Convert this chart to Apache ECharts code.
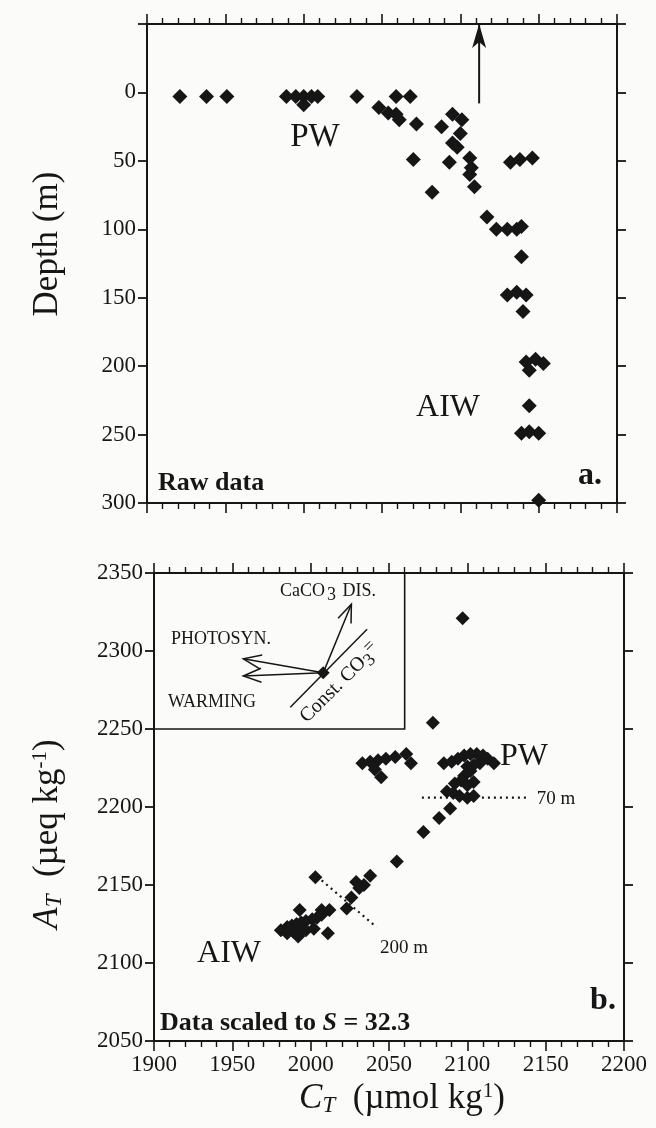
<!DOCTYPE html>
<html>
<head>
<meta charset="utf-8">
<script src="https://cdn.jsdelivr.net/npm/echarts@6/dist/echarts.min.js"></script>
<style>
  html, body { margin: 0; padding: 0; background: #fbfbfa; }
  #chart { width: 656px; height: 1128px; }
</style>
</head>
<body>
<div id="chart"></div>
<script>
// Panel a: raw data, CT (umol/kg) vs depth (m)
const rawCT = [1921, 1938, 1951, 1989, 1995, 2000, 2005, 2009, 2000, 2034, 2059, 2068,
  2048, 2054, 2059, 2061, 2072, 2095, 2101, 2088, 2100, 2095, 2098, 2070, 2093,
  2106, 2107, 2106, 2109, 2082, 2132, 2138, 2146, 2117, 2123, 2130, 2136, 2139,
  2139, 2130, 2136, 2142, 2140, 2142, 2148, 2153, 2144, 2144, 2139, 2144, 2150, 2150];
const rawDepth = [3, 3, 3, 3, 3, 3, 3, 3, 9, 3, 3, 3,
  11, 15, 16, 20, 23, 16, 20, 25, 30, 37, 40, 49, 51,
  48, 55, 60, 69, 73, 51, 49, 48, 91, 100, 100, 100, 98,
  120, 148, 146, 148, 160, 197, 195, 198, 203, 229, 249, 248, 249, 298];

// Panel b: data scaled to S = 32.3, CT vs AT (ueq/kg)
const scaledCT = [2097, 2078,
  2033, 2038, 2043, 2048, 2054, 2061, 2064, 2041, 2045,
  2085, 2090, 2094, 2098, 2102, 2106, 2110, 2113, 2117, 2108, 2104, 2100,
  2102, 2098, 2096, 2092, 2100, 2104, 2087, 2091, 2095, 2100, 2104,
  2089, 2082, 2072, 2055,
  2003, 2038, 2034, 2029, 2031, 2026, 2023, 2012, 2007, 1993, 2011,
  1981, 1985, 1988, 1991, 1994, 1997, 2001, 2004, 2007, 1989, 1993, 1997, 2002, 1985, 1992];
const scaledAT = [2321, 2254,
  2228, 2229, 2230, 2231, 2232, 2234, 2228, 2224, 2219,
  2228, 2229, 2231, 2233, 2234, 2234, 2233, 2231, 2228, 2228, 2227, 2226,
  2223, 2220, 2217, 2215, 2214, 2216, 2210, 2209, 2207, 2206, 2207,
  2199, 2193, 2184, 2165,
  2155, 2156, 2150, 2152, 2148, 2142, 2135, 2134, 2134, 2134, 2119,
  2121, 2123, 2124, 2125, 2126, 2127, 2128, 2129, 2131, 2120, 2119, 2121, 2122, 2119, 2117];

const ctTicks = [1900, 1950, 2000, 2050, 2100, 2150, 2200];
const depthTicks = [0, 50, 100, 150, 200, 250, 300];
const atTicks = [2050, 2100, 2150, 2200, 2250, 2300, 2350];

// annotation segments [x0, y0, x1, y1] and how each is drawn
const annoA = [[2112, 8, 2112, -50]];
const annoAKind = ['filled'];
const annoB = [
  [2008, 2286, 2026, 2330],
  [2008, 2286, 1957, 2295],
  [2008, 2286, 1957, 2284],
  [1987, 2264, 2036, 2314],
  [2071, 2206, 2138, 2206],
  [2007, 2153, 2042, 2123]
];
const annoBKind = ['open', 'open', 'open', 'line', 'dot', 'dot'];
const insetOrigin = [2008, 2286];
const insetBox = [[1900, 2350], [2060, 2250]];

const serif = 'Liberation Serif';
const ink = '#161616';

const xAxisFor = (gridIndex, position, showLabel) => ({
  type: 'value', gridIndex, position,
  min: ctTicks[0], max: ctTicks[ctTicks.length - 1], interval: 50,
  axisLine: { onZero: false, lineStyle: { color: ink, width: 2 } },
  axisTick: { length: 10, lineStyle: { color: ink, width: 1.6 } },
  minorTick: { show: true, splitNumber: 5, length: 6, lineStyle: { color: ink, width: 1.4 } },
  splitLine: { show: false },
  axisLabel: {
    show: showLabel, margin: 12, fontFamily: serif, fontSize: 23, color: ink,
    formatter: v => String(v)
  }
});

const yAxisFor = (gridIndex, position, showLabel, ticks, inverse) => ({
  type: 'value', gridIndex, position, inverse,
  min: inverse ? -50 : ticks[0], max: ticks[ticks.length - 1], interval: 50,
  axisLine: { onZero: false, lineStyle: { color: ink, width: 2 } },
  axisTick: { length: 9, lineStyle: { color: ink, width: 1.8 } },
  splitLine: { show: false },
  axisLabel: {
    show: showLabel, margin: 11, fontFamily: serif, fontSize: 23, color: ink,
    formatter: v => (v < 0 ? '' : String(v))
  }
});

function annoRenderer(kinds) {
  return function (params, api) {
    const p0 = api.coord([api.value(0), api.value(1)]);
    const p1 = api.coord([api.value(2), api.value(3)]);
    const kind = kinds[params.dataIndex];
    const dx = p1[0] - p0[0], dy = p1[1] - p0[1];
    const len = Math.hypot(dx, dy) || 1;
    const ux = dx / len, uy = dy / len, nx = -uy, ny = ux;
    const children = [{
      type: 'line',
      shape: { x1: p0[0], y1: p0[1], x2: p1[0], y2: p1[1] },
      style: kind === 'dot'
        ? { stroke: ink, lineWidth: 2.2, lineDash: [2, 4] }
        : { stroke: ink, lineWidth: kind === 'filled' ? 2 : 1.5 }
    }];
    if (kind === 'open') {
      const L = 18, W = 7;
      children.push({
        type: 'polyline',
        shape: { points: [[p1[0] - ux * L + nx * W, p1[1] - uy * L + ny * W], p1,
          [p1[0] - ux * L - nx * W, p1[1] - uy * L - ny * W]] },
        style: { stroke: ink, lineWidth: 1.5, fill: null }
      });
    } else if (kind === 'filled') {
      const L = 24, W = 7;
      children.push({
        type: 'polygon',
        shape: { points: [p1, [p1[0] - ux * L + nx * W, p1[1] - uy * L + ny * W],
          [p1[0] - ux * (L - 6), p1[1] - uy * (L - 6)],
          [p1[0] - ux * L - nx * W, p1[1] - uy * L - ny * W]] },
        style: { fill: ink }
      });
    }
    return { type: 'group', children };
  };
}

const chart = echarts.init(document.getElementById('chart'), null, { renderer: 'canvas' });

const txt = (x, y, text, size, extra) => ({
  type: 'text', x, y, silent: true, z: 100,
  style: Object.assign({
    text, fill: ink, font: size + 'px "' + serif + '"',
    align: 'center', verticalAlign: 'middle'
  }, extra || {})
});

const titleRich = {
  r: { fontFamily: serif, fontSize: 35, fill: ink },
  i: { fontFamily: serif, fontSize: 35, fontStyle: 'italic', fill: ink },
  s: { fontFamily: serif, fontSize: 23, fontStyle: 'italic', fill: ink, verticalAlign: 'bottom', padding: [11, 0, 0, 0] },
  sup: { fontFamily: serif, fontSize: 21, fill: ink, verticalAlign: 'top', padding: [0, 0, 15, 0] }
};

const option = {
  backgroundColor: '#fbfbfa',
  animation: false,
  grid: [
    { left: 147, top: 24, width: 470, height: 479 },
    { left: 154, top: 573, width: 470, height: 468 }
  ],
  xAxis: [
    xAxisFor(0, 'bottom', false),
    xAxisFor(0, 'top', false),
    xAxisFor(1, 'bottom', true),
    xAxisFor(1, 'top', false)
  ],
  yAxis: [
    yAxisFor(0, 'left', true, depthTicks, true),
    yAxisFor(0, 'right', false, depthTicks, true),
    yAxisFor(1, 'left', true, atTicks, false),
    yAxisFor(1, 'right', false, atTicks, false)
  ],
  series: [
    {
      name: 'Raw data', type: 'scatter', xAxisIndex: 0, yAxisIndex: 0,
      symbol: 'diamond', symbolSize: 15, itemStyle: { color: ink, opacity: 1 },
      data: rawCT.map((c, i) => [c, rawDepth[i]])
    },
    {
      name: 'Scaled data', type: 'scatter', xAxisIndex: 2, yAxisIndex: 2,
      symbol: 'diamond', symbolSize: 14, itemStyle: { color: ink, opacity: 1 },
      data: scaledCT.map((c, i) => [c, scaledAT[i]]),
      markArea: {
        silent: true,
        itemStyle: { color: 'rgba(0,0,0,0)', borderColor: ink, borderWidth: 1.6 },
        data: [[{ coord: insetBox[0] }, { coord: insetBox[1] }]]
      }
    },
    {
      name: 'Inset origin', type: 'scatter', xAxisIndex: 2, yAxisIndex: 2,
      symbol: 'diamond', symbolSize: 13, itemStyle: { color: ink, opacity: 1 }, z: 5,
      data: [insetOrigin]
    },
    {
      type: 'custom', xAxisIndex: 0, yAxisIndex: 0, clip: false, silent: true,
      renderItem: annoRenderer(annoAKind), data: annoA,
      encode: { x: [0, 2], y: [1, 3] }
    },
    {
      type: 'custom', xAxisIndex: 2, yAxisIndex: 2, clip: false, silent: true,
      renderItem: annoRenderer(annoBKind), data: annoB,
      encode: { x: [0, 2], y: [1, 3] }
    }
  ],
  graphic: [
    // axis titles
    Object.assign(txt(48, 244, 'Depth (m)', 35), { rotation: Math.PI / 2 }),
    txt(402, 1099, '{i|C}{s|T}{r|  (µmol kg}{sup|1}{r|)}', 35, { rich: titleRich }),
    Object.assign(txt(48, 834, '{i|A}{s|T}{r|  (µeq kg}{sup|-1}{r|)}', 35, { rich: titleRich }),
      { rotation: Math.PI / 2 }),
    // panel a labels
    txt(315, 137, 'PW', 33),
    txt(448, 408, 'AIW', 32),
    txt(158, 483, 'Raw data', 26, { align: 'left', font: 'bold 26px "' + serif + '"' }),
    txt(590, 476, 'a.', 32, { font: 'bold 32px "' + serif + '"' }),
    // panel b labels
    txt(524, 757, 'PW', 32),
    txt(556, 799, '70 m', 19),
    txt(404, 948, '200 m', 19),
    txt(229, 954, 'AIW', 32),
    txt(160, 1023, '{b|Data scaled to }{bi|S}{b| = 32.3}', 26, {
      align: 'left',
      rich: {
        b: { fontFamily: serif, fontSize: 26, fontWeight: 'bold', fill: ink },
        bi: { fontFamily: serif, fontSize: 26, fontWeight: 'bold', fontStyle: 'italic', fill: ink }
      }
    }),
    txt(603, 1001, 'b.', 32, { font: 'bold 32px "' + serif + '"' }),
    // inset labels
    txt(328, 591, 'CaCO{sub|3} DIS.', 18, {
      rich: { sub: { fontFamily: serif, fontSize: 18, fill: ink, verticalAlign: 'bottom', padding: [8, 2, 0, 2] } }
    }),
    txt(221, 639, 'PHOTOSYN.', 18),
    txt(212, 702, 'WARMING', 18),
    {
      type: 'text', x: 340, y: 683, rotation: Math.PI / 4, silent: true, z: 100,
      style: {
        text: 'Const. CO{sub|3}{sup|=}', fill: ink, font: '20px "' + serif + '"',
        align: 'center', verticalAlign: 'middle',
        rich: {
          sub: { fontFamily: serif, fontSize: 18, fill: ink, verticalAlign: 'bottom', padding: [8, 0, 0, 0] },
          sup: { fontFamily: serif, fontSize: 18, fill: ink, verticalAlign: 'top', padding: [0, 0, 10, 0] }
        }
      }
    }
  ]
};

chart.setOption(option);
</script>
</body>
</html>
